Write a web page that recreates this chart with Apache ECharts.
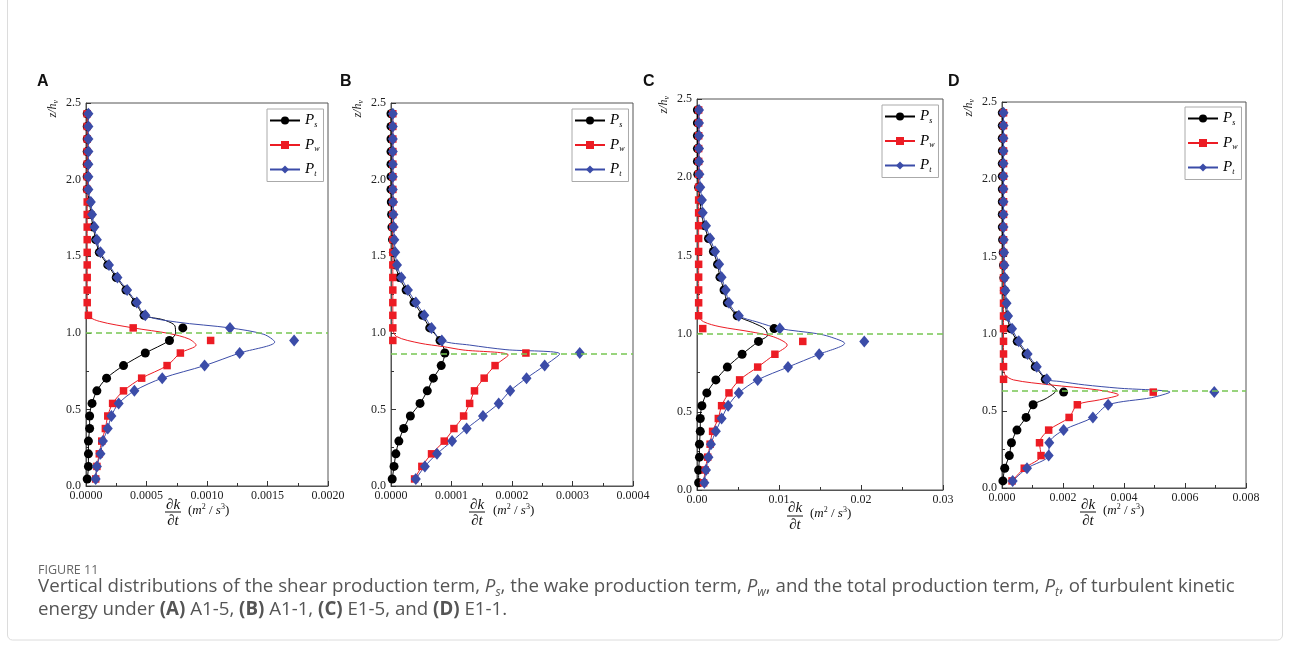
<!DOCTYPE html>
<html><head><meta charset="utf-8">
<script src="https://cdn.jsdelivr.net/npm/echarts@6/dist/echarts.min.js"></script>
<style>html,body{margin:0;padding:0;background:#fff;}#c{width:1290px;height:645px;}</style>
</head><body><div id="c"></div>
<script>
// ---------- DATA ----------
const zLevels = [0.046,0.128,0.210,0.293,0.375,0.457,0.539,0.621,0.704,0.786,0.868,0.950,1.032,1.114,1.197,1.279,1.361,1.443,1.525,1.608,1.690,1.772,1.854,1.936,2.019,2.101,2.183,2.265,2.347,2.430];
const seriesNames = ['Ps','Pw','Pt'];
const panelLetters = ['A','B','C','D'];
const refLevels = [1.0, 0.86, 1.0, 0.63];

// Panel A (A1-5)
const A_Ps = [0.00001,0.00002,0.00002,0.00002,0.00003,0.00003,0.00005,0.00009,0.00017,0.00031,0.00049,0.00069,0.00080,0.00048,0.00041,0.00033,0.00025,0.00018,0.00011,0.00008,0.00006,0.00004,0.00003,0.00001,0.00001,0.00001,0.00001,0.00001,0.00001,0.00001];
const A_Pw = [0.00008,0.00009,0.00011,0.00013,0.00016,0.00018,0.00022,0.00031,0.00046,0.00067,0.00078,0.00103,0.00039,0.00002,0.00001,0.00001,0.00001,0.00001,0.00001,0.00001,0.00001,0.00001,0.00001,0.00001,0.00001,0.00001,0.00001,0.00001,0.00001,0.00001];
const A_Pt = [0.00008,0.00009,0.00012,0.00014,0.00018,0.00021,0.00027,0.00040,0.00063,0.00098,0.00127,0.00172,0.00119,0.00049,0.00042,0.00034,0.00026,0.00019,0.00012,0.00009,0.00007,0.00005,0.00004,0.00002,0.00002,0.00002,0.00002,0.00002,0.00002,0.00002];
// fitted-curve points [z, value] near the peak, and marker indices the curve does not pass through
const A_PsFit = [[1.0,0.00074],[1.045,0.000735],[1.085,0.00064]];  const A_PsSkip = [12];
const A_PwFit = [[0.92,0.00091],[0.96,0.00085],[0.995,0.00069],[1.075,0.00011]]; const A_PwSkip = [11];
const A_PtFit = [[0.94,0.00156],[0.99,0.00147],[1.07,0.00075]]; const A_PtSkip = [11];

// Panel B (A1-1)
const B_Ps = [0.02e-4,0.05e-4,0.08e-4,0.13e-4,0.21e-4,0.32e-4,0.48e-4,0.60e-4,0.70e-4,0.83e-4,0.89e-4,0.81e-4,0.64e-4,0.52e-4,0.38e-4,0.25e-4,0.14e-4,0.07e-4,0.04e-4,0.025e-4,0.015e-4,0.01e-4,0.005e-4,0,0,0,0,0,0,0];
const B_Pw = [0.39e-4,0.51e-4,0.67e-4,0.88e-4,1.04e-4,1.20e-4,1.30e-4,1.38e-4,1.54e-4,1.72e-4,2.23e-4,0.03e-4,0.03e-4,0.03e-4,0.03e-4,0.03e-4,0.03e-4,0.03e-4,0.03e-4,0.03e-4,0.03e-4,0.03e-4,0.03e-4,0.03e-4,0.03e-4,0.03e-4,0.03e-4,0.03e-4,0.03e-4,0.03e-4];
const B_Pt = [0.41e-4,0.56e-4,0.76e-4,1.01e-4,1.25e-4,1.52e-4,1.78e-4,1.97e-4,2.24e-4,2.54e-4,3.12e-4,0.84e-4,0.67e-4,0.55e-4,0.41e-4,0.28e-4,0.17e-4,0.10e-4,0.07e-4,0.055e-4,0.045e-4,0.04e-4,0.035e-4,0.03e-4,0.03e-4,0.03e-4,0.03e-4,0.03e-4,0.03e-4,0.03e-4];
const B_PsFit = []; const B_PsSkip = [];
const B_PwFit = [[0.855,1.94e-4],[0.888,1.19e-4],[0.91,0.86e-4],[0.932,0.48e-4],[0.976,0.09e-4]]; const B_PwSkip = [10,11];
const B_PtFit = [[0.862,2.79e-4],[0.89,1.9e-4],[0.92,1.3e-4]]; const B_PtSkip = [10];

// Panel C (E1-5)
const C_Ps = [0.0002,0.0002,0.0003,0.0003,0.0004,0.0004,0.0006,0.0012,0.0023,0.0037,0.0055,0.0075,0.0094,0.0049,0.0037,0.0033,0.0028,0.0025,0.0020,0.0014,0.0009,0.0005,0.0004,0.0002,0.0001,0.00005,0.00005,0.00005,0.00005,0.00005];
const C_Pw = [0.0008,0.0010,0.0013,0.0016,0.0019,0.0026,0.0030,0.0039,0.0052,0.0074,0.0095,0.0129,0.0007,0.0002,0.0002,0.0002,0.0002,0.0002,0.0002,0.0002,0.0002,0.0002,0.0002,0.0002,0.0002,0.0002,0.0002,0.0002,0.0002,0.0002];
const C_Pt = [0.0009,0.0011,0.0014,0.0017,0.0023,0.0030,0.0038,0.0051,0.0074,0.0111,0.0149,0.0204,0.0101,0.0051,0.0039,0.0035,0.0030,0.0027,0.0022,0.0016,0.0011,0.0007,0.0006,0.0004,0.0003,0.00025,0.00025,0.00025,0.00025,0.00025];
const C_PsFit = [[0.99,0.0086],[1.03,0.0083],[1.07,0.0068]]; const C_PsSkip = [12];
const C_PwFit = [[0.927,0.0110],[0.98,0.0093],[1.012,0.0065],[1.044,0.0028],[1.076,0.0008]]; const C_PwSkip = [11,12];
const C_PtFit = [[0.938,0.0180],[0.98,0.0162],[1.0,0.0146],[1.075,0.0073]]; const C_PtSkip = [11];

// Panel D (E1-1)
const D_Ps = [0.00003,0.00009,0.00024,0.00031,0.00049,0.00079,0.00102,0.00202,0.00142,0.00109,0.00079,0.00050,0.00028,0.00016,0.00011,0.00008,0.00006,0.00005,0.00004,0.00002,0.00001,0.00001,0.00001,0.00001,0.00001,0.00001,0.00001,0.00001,0.00001,0.00001];
const D_Pw = [0.00033,0.00073,0.00128,0.00123,0.00153,0.00220,0.00247,0.00496,0.00005,0.00005,0.00005,0.00005,0.00005,0.00005,0.00005,0.00005,0.00005,0.00005,0.00005,0.00005,0.00005,0.00005,0.00005,0.00005,0.00005,0.00005,0.00005,0.00005,0.00005,0.00005];
const D_Pt = [0.00035,0.00082,0.00153,0.00155,0.00202,0.00298,0.00348,0.00696,0.00147,0.00114,0.00084,0.00055,0.00033,0.00020,0.00015,0.00011,0.00009,0.00008,0.00007,0.00006,0.00005,0.00005,0.00005,0.00005,0.00005,0.00005,0.00005,0.00005,0.00005,0.00005];
const D_PsFit = [[0.58,0.00145],[0.635,0.00178],[0.665,0.00163]]; const D_PsSkip = [7];
const D_PwFit = [[0.571,0.0032],[0.603,0.00382],[0.636,0.00311],[0.668,0.00158],[0.70,0.00038],[0.733,0.0001]]; const D_PwSkip = [7,8];
const D_PtFit = [[0.585,0.0049],[0.621,0.00551],[0.647,0.0038],[0.668,0.0027],[0.69,0.0019]]; const D_PtSkip = [7];

const xMax = [0.002, 0.0004, 0.03, 0.008];
const xInterval = [0.0005, 0.0001, 0.01, 0.002];
const xDecimals = [4, 4, 2, 3];
const yTicks = ['0.0','0.5','1.0','1.5','2.0','2.5'];

// ---------- LAYOUT / STYLE ----------
const grids = [
  {left: 86, top: 103, width: 242, height: 383},
  {left: 391, top: 103, width: 242, height: 383},
  {left: 697, top: 99, width: 246, height: 391},
  {left: 1002, top: 102, width: 244, height: 386}
];
const legendPos = [{left:267, top:109},{left:572, top:109},{left:882, top:105},{left:1185, top:107}];
const fracPos = [
  {cx:173, num:505, bar:512, den:521, px:188, py:511},
  {cx:477, num:505, bar:512, den:521, px:493, py:511},
  {cx:795, num:508, bar:516, den:525, px:810, py:514},
  {cx:1088, num:505, bar:512, den:521, px:1103, py:511}
];
const letterPos = [37, 340, 643, 948];
const colors = {Ps:'#000000', Pw:'#ec1c24', Pt:'#3b4ca8'};
const symbols = {Ps:'circle', Pw:'rect', Pt:'diamond'};
const symSizes = {Ps:9, Pw:7.5, Pt:[10,12]};
const serif = '"Liberation Serif", "Times New Roman", serif';
const sans = '"Open Sans", sans-serif';

const panels = [
  {Ps:A_Ps, Pw:A_Pw, Pt:A_Pt, fit:{Ps:A_PsFit,Pw:A_PwFit,Pt:A_PtFit}, skip:{Ps:A_PsSkip,Pw:A_PwSkip,Pt:A_PtSkip}},
  {Ps:B_Ps, Pw:B_Pw, Pt:B_Pt, fit:{Ps:B_PsFit,Pw:B_PwFit,Pt:B_PtFit}, skip:{Ps:B_PsSkip,Pw:B_PwSkip,Pt:B_PtSkip}},
  {Ps:C_Ps, Pw:C_Pw, Pt:C_Pt, fit:{Ps:C_PsFit,Pw:C_PwFit,Pt:C_PtFit}, skip:{Ps:C_PsSkip,Pw:C_PwSkip,Pt:C_PtSkip}},
  {Ps:D_Ps, Pw:D_Pw, Pt:D_Pt, fit:{Ps:D_PsFit,Pw:D_PwFit,Pt:D_PtFit}, skip:{Ps:D_PsSkip,Pw:D_PwSkip,Pt:D_PtSkip}}
];

function lineData(vals, fit, skip) {
  const pts = [];
  vals.forEach((v, i) => { if (skip.indexOf(i) < 0) pts.push([v, zLevels[i]]); });
  fit.forEach(p => pts.push([p[1], p[0]]));
  pts.sort((a, b) => a[1] - b[1]);
  return pts;
}

const xAxes = [], yAxes = [], series = [], legends = [], graphics = [];
panels.forEach((p, i) => {
  xAxes.push({
    type:'value', gridIndex:i, min:0, max:xMax[i], interval:xInterval[i],
    axisLine:{show:true, lineStyle:{color:'#555', width:1}},
    axisTick:{show:true, inside:true, length:5, lineStyle:{color:'#333'}},
    minorTick:{show:true, splitNumber:2, length:3, lineStyle:{color:'#333'}},
    splitLine:{show:false},
    axisLabel:{fontFamily:serif, fontSize:12, color:'#222', margin:4,
      formatter: v => v.toFixed(xDecimals[i])}
  });
  yAxes.push({
    type:'value', gridIndex:i, min:0, max:2.5, interval:0.5,
    axisLine:{show:true, lineStyle:{color:'#555', width:1}},
    axisTick:{show:true, inside:true, length:5, lineStyle:{color:'#333'}},
    minorTick:{show:true, splitNumber:2, length:3, lineStyle:{color:'#333'}},
    splitLine:{show:false},
    axisLabel:{fontFamily:serif, fontSize:12, color:'#222', margin:5,
      formatter: v => yTicks[Math.round(v / 0.5)]}
  });
  seriesNames.forEach(n => {
    series.push({
      type:'line', name:n, xAxisIndex:i, yAxisIndex:i,
      data: lineData(p[n], p.fit[n], p.skip[n]),
      smooth:0.3, showSymbol:false, symbol:symbols[n], symbolSize:8,
      lineStyle:{color:colors[n], width:1}, itemStyle:{color:colors[n]},
      z:2, silent:true, animation:false
    });
  });
  seriesNames.forEach(n => {
    const s = {
      type:'scatter', name:n, xAxisIndex:i, yAxisIndex:i,
      data: p[n].map((v, k) => [v, zLevels[k]]),
      symbol:symbols[n], symbolSize:symSizes[n],
      itemStyle:{color:colors[n], opacity:1}, z:3, silent:true, animation:false
    };
    if (n === 'Pt') {
      s.markLine = {silent:true, symbol:'none', label:{show:false}, animation:false,
        lineStyle:{color:'#77c653', type:[6,4], width:1.5},
        data:[{yAxis:refLevels[i]}]};
    }
    series.push(s);
  });
  legends.push({
    left:legendPos[i].left, top:legendPos[i].top, orient:'vertical',
    data:seriesNames, itemWidth:30, itemHeight:10, itemGap:9,
    padding:[4,4,4,2], borderColor:'#aaa', borderWidth:1, backgroundColor:'#fff',
    selectedMode:false,
    formatter: name => '{p|P}{s|' + name.slice(1) + '}',
    textStyle:{color:'#000', rich:{
      p:{fontFamily:serif, fontStyle:'italic', fontSize:15, lineHeight:16},
      s:{fontFamily:serif, fontStyle:'italic', fontSize:8, verticalAlign:'bottom'}
    }}
  });
  const g = grids[i];
  // panel letter
  graphics.push({type:'text', left:letterPos[i], top:74,
    style:{text:panelLetters[i], font:'bold 16px "Liberation Sans", Arial, sans-serif', fill:'#111'}});
  // y-axis name
  graphics.push({type:'text', x:g.left - 33, y:g.top - 3, rotation:Math.PI/2,
    style:{text:'{a|z/h}{b|v}', textAlign:'right', textVerticalAlign:'middle', align:'right', verticalAlign:'middle',
      fill:'#222', rich:{a:{fontFamily:serif, fontStyle:'italic', fontSize:12, lineHeight:14},
      b:{fontFamily:serif, fontStyle:'italic', fontSize:8, verticalAlign:'bottom'}}}});
  // x-axis name: fraction dk/dt and units
  const f = fracPos[i];
  graphics.push({type:'text', x:f.cx, y:f.num,
    style:{text:'∂k', font:'italic 15px ' + serif, fill:'#111', textAlign:'center', textVerticalAlign:'middle', align:'center', verticalAlign:'middle'}});
  graphics.push({type:'line', shape:{x1:f.cx - 8, y1:f.bar, x2:f.cx + 8, y2:f.bar}, style:{stroke:'#111', lineWidth:1}});
  graphics.push({type:'text', x:f.cx, y:f.den,
    style:{text:'∂t', font:'italic 15px ' + serif, fill:'#111', textAlign:'center', textVerticalAlign:'middle', align:'center', verticalAlign:'middle'}});
  graphics.push({type:'text', x:f.px, y:f.py,
    style:{text:'{a|(}{b|m}{c|2}{a| / }{b|s}{c|3}{a|)}', textAlign:'left', textVerticalAlign:'middle', align:'left', verticalAlign:'middle', fill:'#111',
      rich:{a:{fontFamily:serif, fontSize:13, lineHeight:16}, b:{fontFamily:serif, fontStyle:'italic', fontSize:13, lineHeight:16},
            c:{fontFamily:serif, fontSize:8, verticalAlign:'top'}}}});
});

// caption
const capRich = {
  i:{fontFamily:sans, fontStyle:'italic', fontSize:18.7, lineHeight:24, fill:'#555'},
  sub:{fontFamily:sans, fontStyle:'italic', fontSize:12, verticalAlign:'bottom', fill:'#555'},
  b:{fontFamily:sans, fontWeight:'bold', fontSize:18.7, lineHeight:24, fill:'#555'}
};
graphics.push({type:'text', left:38, top:564,
  style:{text:'FIGURE 11', font:'12.5px ' + sans, fill:'#666'}});
graphics.push({type:'text', x:38, y:587,
  style:{text:'Vertical distributions of the shear production term, {i|P}{sub|s}, the wake production term, {i|P}{sub|w}, and the total production term, {i|P}{sub|t}, of turbulent kinetic',
    font:'18.7px ' + sans, fill:'#555', textAlign:'left', textVerticalAlign:'middle', align:'left', verticalAlign:'middle', rich:capRich}});
graphics.push({type:'text', x:38, y:610,
  style:{text:'energy under {b|(A)} A1-5, {b|(B)} A1-1, {b|(C)} E1-5, and {b|(D)} E1-1.',
    font:'18.7px ' + sans, fill:'#555', textAlign:'left', textVerticalAlign:'middle', align:'left', verticalAlign:'middle', rich:capRich}});
// outer frame
graphics.push({type:'rect', shape:{x:7.5, y:-6, width:1275, height:646, r:5}, style:{fill:'none', stroke:'#dcdcdc', lineWidth:1}, z:-1});

const chart = echarts.init(document.getElementById('c'), null, {renderer:'canvas'});
chart.setOption({
  animation:false,
  backgroundColor:'#fff',
  grid: grids.map(g => Object.assign({show:true, borderColor:'#555', borderWidth:1, backgroundColor:'transparent'}, g)),
  xAxis:xAxes, yAxis:yAxes, series:series, legend:legends, graphic:graphics
});
</script></body></html>
